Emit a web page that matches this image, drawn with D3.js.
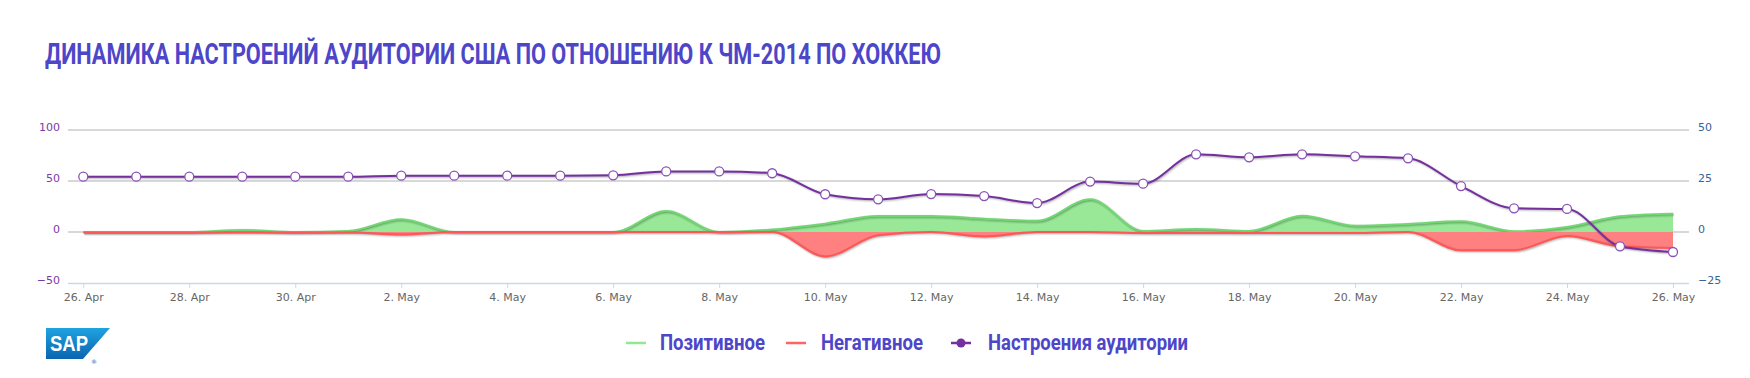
<!DOCTYPE html>
<html>
<head>
<meta charset="utf-8">
<script src="https://cdn.jsdelivr.net/npm/d3@7"></script>
<style>
  body { margin: 0; background: #fff; }
  svg { display: block; }
</style>
</head>
<body>
<div id="chart"></div>
<script>
const dates = ['2014-04-26','2014-04-27','2014-04-28','2014-04-29','2014-04-30','2014-05-01',
    '2014-05-02','2014-05-03','2014-05-04','2014-05-05','2014-05-06','2014-05-07','2014-05-08',
    '2014-05-09','2014-05-10','2014-05-11','2014-05-12','2014-05-13','2014-05-14','2014-05-15',
    '2014-05-16','2014-05-17','2014-05-18','2014-05-19','2014-05-20','2014-05-21','2014-05-22',
    '2014-05-23','2014-05-24','2014-05-25','2014-05-26'];
const positive = [0, 0, 0, 2, 0, 1, 12.5, 0, 0, 0, 0, 20.5, 0, 2.5, 8.2, 15.7, 15.7, 13.1, 11, 32,
    1, 3, 1, 16, 6.2, 7.9, 10.5, 0.7, 4.9, 15.4, 18];
const negative = [-0.5, -0.5, -0.5, -0.5, -0.5, -0.5, -2.5, 0, 0, 0, 0, 0, 0, 0, -24, -3.3, 0, -4.3, 0, 0,
    -1, -1, -1, -1, -1, 0, -18, -18, -3.9, -14, -15.7];
const sentiment = [27.1, 27.1, 27.1, 27.1, 27.1, 27.1, 27.6, 27.6, 27.6, 27.6, 27.8, 29.7, 29.7, 28.8,
    18.5, 16, 18.6, 17.6, 14.2, 24.7, 23.7, 38.1, 36.6, 38.1, 37.1, 36.1, 22.5, 11.6, 11.3, -7, -9.8];
const leftTicks = [-50, 0, 50, 100];
const rightTicks = [-25, 0, 25, 50];
const legendItems = ['Позитивное', 'Негативное', 'Настроения аудитории'];
const titleText = 'ДИНАМИКА НАСТРОЕНИЙ АУДИТОРИИ США ПО ОТНОШЕНИЮ К ЧМ-2014 ПО ХОККЕЮ';

const width = 1750, height = 378;
const plot = {left: 68, right: 1689, top: 130, bottom: 283};
const parse = d3.timeParse('%Y-%m-%d');
const days = dates.map(parse);

const svg = d3.select('#chart').append('svg')
    .attr('width', width).attr('height', height)
    .attr('font-family', '"DejaVu Sans", sans-serif');

const defs = svg.append('defs');
const grad = defs.append('linearGradient').attr('id', 'sapGrad')
    .attr('x1', 0).attr('y1', 0).attr('x2', 0).attr('y2', 1);
grad.append('stop').attr('offset', '0%').attr('stop-color', '#1fa3e0');
grad.append('stop').attr('offset', '100%').attr('stop-color', '#0a64b0');

// title
svg.append('text').attr('x', 45).attr('y', 64)
    .attr('font-family', 'Roboto, sans-serif').attr('font-weight', 700)
    .attr('font-size', 29).attr('fill', '#4d46c9')
    .attr('textLength', 896).attr('lengthAdjust', 'spacingAndGlyphs')
    .text(titleText);

const x = d3.scaleTime()
    .domain(d3.extent(days))
    .range([83.3, 1673]);
const yLeft = d3.scaleLinear().domain([-50, 100]).range([plot.bottom, plot.top]);
const yRight = d3.scaleLinear().domain([-25, 50]).range([plot.bottom, plot.top]);

// grid
svg.append('g').selectAll('line').data(leftTicks.filter(d => d > -50)).join('line')
    .attr('x1', plot.left).attr('x2', plot.right)
    .attr('y1', d => yLeft(d)).attr('y2', d => yLeft(d))
    .attr('stroke', '#cbcbcb').attr('stroke-width', 1.5);

// x axis
const xTicks = days.filter((d, i) => i % 2 === 0);
const xAxis = d3.axisBottom(x).tickValues(xTicks)
    .tickFormat(d => d3.timeFormat('%-d')(d) + '. ' + d3.timeFormat('%b')(d))
    .tickSize(5).tickSizeOuter(0).tickPadding(5);
const gx = svg.append('g').attr('transform', `translate(0,${plot.bottom})`).call(xAxis);
gx.select('.domain').attr('d', `M${plot.left},0.5H${plot.right}`)
    .attr('stroke', '#ccd6eb').attr('stroke-width', 1.5);
gx.selectAll('.tick line').attr('stroke', '#ccd6eb');
gx.selectAll('.tick text').attr('fill', '#666').attr('font-size', 11)
    .attr('font-family', '"DejaVu Sans", sans-serif');

// y labels
svg.append('g').selectAll('text').data(leftTicks).join('text')
    .attr('x', 60).attr('y', d => yLeft(d) + 1)
    .attr('text-anchor', 'end').attr('font-size', 11).attr('fill', '#7a3aa6')
    .text(d => d === -50 ? '−50' : d);
svg.append('g').selectAll('text').data(rightTicks).join('text')
    .attr('x', 1698).attr('y', d => yRight(d) + 1)
    .attr('text-anchor', 'start').attr('font-size', 11).attr('fill', '#3a6496')
    .text(d => d === -25 ? '−25' : d);

const curve = d3.curveMonotoneX;
const area = d3.area().x((d, i) => x(days[i])).y0(yLeft(0)).y1(d => yLeft(d)).curve(curve);
const lineL = d3.line().x((d, i) => x(days[i])).y(d => yLeft(d)).curve(curve);
const lineR = d3.line().x((d, i) => x(days[i])).y(d => yRight(d)).curve(curve);

function shadow(g, d) {
    [5, 3, 1].forEach((w, i) => {
        g.append('path').attr('d', d).attr('fill', 'none')
            .attr('stroke', '#000').attr('stroke-opacity', 0.05 * (i + 1))
            .attr('stroke-width', w).attr('transform', 'translate(1,1)');
    });
}

function areaSeries(values, fill, stroke) {
    const g = svg.append('g');
    g.append('path').attr('d', area(values)).attr('fill', fill);
    shadow(g, lineL(values));
    g.append('path').attr('d', lineL(values)).attr('fill', 'none')
        .attr('stroke', stroke).attr('stroke-width', 2);
}
areaSeries(positive, '#98e898', '#70d870');
areaSeries(negative, '#ff8080', '#ff5656');

// sentiment line
const gs = svg.append('g');
shadow(gs, lineR(sentiment));
gs.append('path').attr('d', lineR(sentiment)).attr('fill', 'none')
    .attr('stroke', '#7530a0').attr('stroke-width', 2);
gs.selectAll('circle').data(sentiment).join('circle')
    .attr('cx', (d, i) => x(days[i])).attr('cy', d => yRight(d)).attr('r', 4.5)
    .attr('fill', '#fff').attr('stroke', '#8a52b8').attr('stroke-width', 1.3);

// legend
const legend = svg.append('g').attr('font-family', 'Roboto, sans-serif')
    .attr('font-weight', 700).attr('font-size', 22).attr('fill', '#4d46c9');
const legendPos = [
    {sx: 626, tx: 660, tw: 105, color: '#90e890'},
    {sx: 786, tx: 821, tw: 102, color: '#ff6464'},
    {sx: 951, tx: 988, tw: 200, color: '#7530a0'}
];
legendItems.forEach((name, i) => {
    const p = legendPos[i];
    legend.append('line').attr('x1', p.sx).attr('x2', p.sx + 20)
        .attr('y1', 343).attr('y2', 343).attr('stroke', p.color).attr('stroke-width', 2.5);
    if (i === 2) {
        legend.append('circle').attr('cx', p.sx + 10).attr('cy', 343).attr('r', 4.5).attr('fill', p.color);
    }
    legend.append('text').attr('x', p.tx).attr('y', 350)
        .attr('textLength', p.tw).attr('lengthAdjust', 'spacingAndGlyphs')
        .text(name);
});

// SAP logo
const logo = svg.append('g');
logo.append('polygon').attr('points', '46,328 110,328 83,359 46,359').attr('fill', 'url(#sapGrad)');
logo.append('text').attr('x', 50).attr('y', 351)
    .attr('font-family', '"Liberation Sans", Arial, sans-serif').attr('font-weight', 700)
    .attr('font-size', 22).attr('fill', '#fff')
    .attr('textLength', 38).attr('lengthAdjust', 'spacingAndGlyphs').text('SAP');
logo.append('text').attr('x', 91).attr('y', 364).attr('font-size', 6).attr('fill', '#0a64b0').text('®');
</script>
</body>
</html>
